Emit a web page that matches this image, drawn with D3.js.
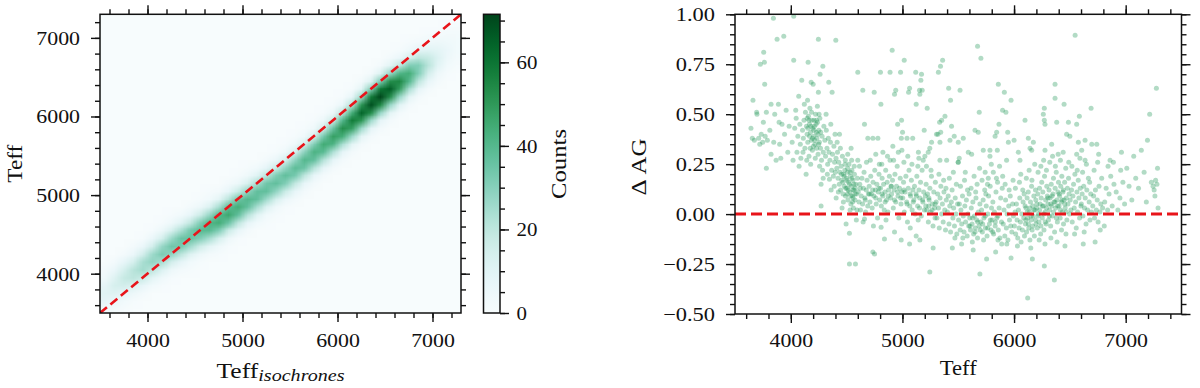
<!DOCTYPE html>
<html lang="en">
<head>
<meta charset="UTF-8">
<title>Teff vs Teff isochrones</title>
<style>
  body { margin: 0; background: #fff; }
  svg { display: block; }
</style>
</head>
<body>
<script src="https://cdn.jsdelivr.net/npm/d3@7"></script>
<script>
// ---------------- data ----------------
const teffTicks = [4000, 5000, 6000, 7000];
const dagTicks = [-0.5, -0.25, 0, 0.25, 0.5, 0.75, 1.0];
const countTicks = [0, 20, 40, 60];
const countMax = 71.5;

// 2D histogram, 100 K bins from 3500 K. One entry per Teff_isochrones column:
// index of the first Teff bin that is filled, then the counts going upward.
const heatStart = [0, 0, 0, 1, 1, 2, 3, 4, 5, 5, 6, 7, 7, 8, 9, 10, 10, 11, 12, 13,
                   14, 15, 16, 17, 18, 19, 20, 21, 22, 23, 24, 25, 26, 26, 27, 28, 29, 29];
const heatCounts = [
  [4, 8, 10, 8, 4, 2], [2, 6, 11, 14, 11, 6, 2, 0], [1, 3, 8, 15, 18, 14, 7, 2, 0], [1, 5, 12, 20, 21, 14, 6, 2, 0],
  [0, 2, 7, 17, 25, 24, 15, 6, 1], [0, 3, 9, 20, 28, 26, 15, 6, 1], [1, 4, 12, 24, 32, 27, 14, 5, 1], [1, 5, 15, 28, 34, 26, 13, 4, 1],
  [2, 8, 20, 33, 35, 23, 10, 3, 0], [1, 3, 11, 25, 36, 33, 19, 7, 2], [1, 5, 16, 31, 39, 31, 16, 5, 1], [2, 9, 24, 39, 41, 27, 12, 3, 1],
  [1, 4, 14, 31, 44, 40, 24, 9, 2], [1, 5, 17, 35, 46, 38, 21, 7, 2], [1, 7, 20, 37, 44, 34, 17, 5, 1], [2, 8, 22, 37, 40, 28, 13, 4, 1],
  [0, 3, 10, 24, 37, 37, 24, 10, 3], [1, 3, 12, 26, 37, 34, 20, 8, 2], [1, 4, 14, 28, 37, 31, 17, 6, 1], [1, 6, 17, 31, 37, 28, 14, 4, 1],
  [2, 7, 19, 33, 38, 28, 13, 4, 1], [2, 7, 20, 35, 40, 29, 14, 4, 1], [2, 7, 21, 37, 42, 31, 14, 4, 1], [2, 8, 22, 39, 45, 33, 15, 5, 1],
  [2, 8, 23, 42, 48, 35, 16, 5, 1], [2, 8, 24, 44, 53, 40, 20, 6, 1], [2, 9, 26, 48, 58, 44, 22, 7, 1], [2, 9, 26, 51, 64, 51, 26, 9, 2],
  [2, 8, 26, 53, 69, 58, 31, 11, 2], [2, 8, 27, 54, 71, 59, 32, 11, 2], [2, 9, 27, 53, 66, 53, 27, 9, 2], [2, 10, 27, 49, 55, 41, 19, 6, 1],
  [2, 9, 24, 40, 44, 31, 14, 4, 1], [0, 2, 8, 20, 31, 31, 20, 8, 2], [0, 2, 7, 15, 21, 18, 10, 4, 1], [0, 2, 5, 10, 12, 9, 5, 1, 0],
  [0, 1, 3, 5, 6, 4, 2, 1, 0], [0, 0, 1, 2, 3, 3, 2, 1, 0]
];

// right panel: [Teff, delta AG]
const scatterPoints = [
  [3643,.43],[3661,.57],[3673,.37],[3694,.51],[3697,.50],[3655,.38],
  [3712,.38],[3727,.75],[3748,.36],[3754,.46],[3757,.81],[3763,.76],[3766,.65],[3781,.51],[3781,.23],[3735,.40],[3790,.37],[3722,.35],[3770,.39],
  [3823,.55],[3823,.30],[3844,.98],[3856,.50],[3877,.875],[3889,.55],[3812,.42],[3868,.27],[3847,.36],[3895,.46],
  [3900,.35],[3921,.45],[3937,.89],[3973,.31],[3958,.52],[3944,.40],[3985,.44],[3910,.28],
  [4026,.99],[4026,.77],[4071,.59],[4074,.24],[4098,.67],[4012,.36],[4035,.43],[4048,.48],[4055,.31],[4063,.39],[4081,.45],[4090,.28],[4044,.52],[4085,.35],[4020,.27],
  [4137,.20],[4155,.76],[4182,.66],[4105,.42],[4112,.38],[4118,.47],[4126,.33],[4131,.51],[4140,.44],[4146,.40],[4152,.36],[4158,.49],[4163,.29],[4167,.45],[4171,.53],[4176,.41],[4184,.37],[4188,.47],[4193,.32],[4197,.43],[4121,.55],[4143,.27],[4178,.25],[4109,.31],[4150,.57],
  [4200,.65],[4247,.875],[4247,.61],[4262,.70],[4287,.74],[4271,.04],[4271,.15],[4205,.39],[4211,.44],[4216,.35],[4222,.50],[4228,.41],[4233,.38],[4239,.46],[4244,.30],[4251,.42],[4256,.36],[4260,.48],[4266,.33],[4275,.27],[4280,.39],[4284,.22],[4291,.31],[4296,.44],[4219,.28],[4238,.54],[4208,.47],[4258,.24],[4290,.18],
  [4340,.66],[4346,.175],[4361,.12],[4370,.61],[4305,.37],[4311,.29],[4318,.42],[4324,.33],[4330,.25],[4336,.38],[4342,.31],[4350,.27],[4355,.36],[4366,.22],[4374,.30],[4381,.19],[4386,.34],[4392,.26],[4398,.21],[4316,.50],[4358,.45],[4327,.20],[4389,.14],[4396,.40],
  [4403,.87],[4406,.08],[4495,-.05],[4405,.28],[4412,.23],[4418,.31],[4423,.18],[4429,.26],[4434,.15],[4440,.21],[4446,.12],[4451,.24],[4457,.17],[4462,.29],[4468,.10],[4473,.20],[4479,.14],[4484,.22],[4490,.09],[4497,.18],[4415,.36],[4444,.33],[4471,.06],[4488,.27],[4426,.11],[4459,.03],[4436,.40],
  [4525,-.096],[4525,-.25],[4579,-.25],[4503,.13],[4508,.21],[4512,.07],[4517,.16],[4521,.25],[4528,.11],[4533,.19],[4538,.05],[4542,.14],[4547,.22],[4551,.09],[4556,.17],[4561,.03],[4566,.12],[4570,.20],[4575,.07],[4583,.15],[4588,.10],[4593,.02],[4597,.18],[4510,.30],[4545,.27],[4568,.24],[4531,.02],[4587,-.03],[4540,.33],[4559,.12],[4506,.10],[4577,.13],
  [4600,.71],[4600,.27],[4645,.62],[4660,.45],[4660,-.025],[4690,.38],[4604,.11],[4611,.06],[4618,.15],[4624,.02],[4631,.09],[4637,.18],[4643,.05],[4650,.13],[4656,.21],[4663,.08],[4670,.01],[4676,.12],[4683,.17],[4689,.04],[4695,.10],[4615,.24],[4648,-.04],[4678,.26],[4622,.13],[4667,.07],
  [4735,-.19],[4750,-.2],[4735,.38],[4747,.61],[4780,.38],[4702,.14],[4709,.06],[4716,.19],[4722,.10],[4729,.03],[4737,.16],[4744,.09],[4752,.22],[4758,.12],[4765,.05],[4771,.15],[4777,-.02],[4784,.11],[4790,.20],[4796,.07],[4712,.27],[4761,.30],[4793,.25],[4740,-.06],
  [4803,.71],[4807,.55],[4825,.31],[4809,-.066],[4839,-.125],[4804,.13],[4811,.04],[4818,.18],[4824,.09],[4831,.15],[4837,.02],[4844,.11],[4850,.22],[4857,.07],[4863,.16],[4870,.01],[4876,.12],[4883,.19],[4889,.27],[4889,.71],[4894,.08],[4815,.25],[4866,.29],[4898,.14],[4853,-.03],
  [4908,.82],[4914,.34],[4929,.60],[4929,-.09],[4957,.45],[4983,.71],[4989,-.13],[4990,.38],[4992,.47],[4995,.32],[4903,.10],[4911,.17],[4918,.03],[4925,.12],[4933,.20],[4940,.62],[4940,.06],[4947,.14],[4953,.24],[4960,.09],[4967,-.02],[4974,.13],[4980,.18],[4987,.05],[4996,.11],[4921,.27],[4963,.31],
  [5001,.41],[5016,.77],[5041,.38],[5055,.61],[5064,.63],[5064,-.15],[5092,.38],[5003,.08],[5010,.16],[5017,.01],[5024,.11],[5031,.19],[5038,.06],[5045,-.04],[5052,.13],[5059,.22],[5066,.04],[5073,.09],[5080,.17],[5087,.02],[5094,.12],[5013,.26],[5048,.29],[5085,.25],[5070,-.07],
  [5119,.71],[5123,.55],[5123,-.11],[5143,.31],[5147,.28],[5153,.62],[5156,.60],[5156,-.13],[5165,.67],[5171,.70],[5177,.62],[5195,.42],[5102,.07],[5108,.14],[5115,.00],[5122,.10],[5129,.19],[5136,.04],[5141,-.03],[5148,.12],[5155,.08],[5162,.16],[5169,-.01],[5176,.22],[5183,.06],[5190,.11],[5197,.02],[5138,.24],[5186,.27],
  [5201,.29],[5222,.53],[5231,.31],[5245,-.29],[5245,.33],[5261,.36],[5275,-.17],[5205,.09],[5212,.15],[5218,.02],[5225,.10],[5232,-.04],[5239,.07],[5246,.13],[5253,.01],[5260,.19],[5267,.05],[5274,-.06],[5281,.11],[5288,.03],[5295,.16],[5215,.24],[5256,.22],[5292,-.02],[5236,.04],
  [5305,.40],[5318,.40],[5322,.71],[5333,.46],[5336,.36],[5336,.27],[5341,.74],[5343,.41],[5351,.47],[5360,.77],[5381,.49],[5396,.27],[5302,.06],[5309,-.02],[5316,.10],[5323,.03],[5330,-.07],[5337,.08],[5344,.14],[5351,.00],[5358,.05],[5365,-.04],[5372,.11],[5379,.02],[5386,-.08],[5393,.07],[5327,.20],[5369,.17],[5390,.13],
  [5414,.63],[5426,.37],[5431,.57],[5440,.44],[5447,-.17],[5464,.39],[5403,.01],[5410,.09],[5417,-.05],[5424,.04],[5431,-.09],[5438,.06],[5445,.12],[5452,-.02],[5459,.03],[5466,-.06],[5473,.08],[5480,.00],[5487,-.10],[5494,.05],[5420,.18],[5456,.21],[5483,.15],[5470,-.12],[5499,.26],
  [5500,.36],[5500,.26],[5509,.28],[5516,.62],[5530,-.15],[5545,.38],[5590,.31],[5503,-.03],[5510,.05],[5517,-.08],[5524,.02],[5531,-.05],[5538,.09],[5545,-.01],[5552,-.09],[5559,.04],[5566,-.04],[5573,.07],[5580,-.11],[5587,.00],[5594,-.06],[5520,.14],[5556,.17],[5583,.12],[5541,-.12],[5597,.10],[5563,.21],
  [5620,.30],[5634,-.18],[5650,.42],[5673,.84],[5679,.41],[5688,.51],[5694,-.30],[5603,-.02],[5610,-.08],[5617,.03],[5624,-.05],[5631,.06],[5638,-.10],[5645,-.01],[5652,-.07],[5659,.08],[5666,-.03],[5673,-.12],[5680,.01],[5687,-.06],[5694,.05],[5615,.13],[5642,.19],[5669,.15],[5691,.23],[5626,-.14],[5656,.11],
  [5703,.78],[5724,.32],[5754,-.225],[5784,.29],[5784,.32],[5702,-.04],[5709,.02],[5716,-.09],[5723,.07],[5730,-.02],[5737,.12],[5744,-.07],[5751,.04],[5758,-.11],[5765,.00],[5772,.09],[5779,-.05],[5786,.14],[5793,-.08],[5798,.03],[5713,.17],[5741,.21],[5769,.18],[5796,.25],[5727,-.13],[5762,.15],[5747,.10],
  [5830,.39],[5835,-.19],[5844,.41],[5850,.32],[5859,.65],[5865,.45],[5889,-.15],[5897,.52],[5803,-.03],[5810,.06],[5817,-.10],[5824,.01],[5831,-.06],[5838,.11],[5845,-.02],[5852,.16],[5859,-.08],[5866,.03],[5873,-.12],[5880,.08],[5887,-.04],[5894,.13],[5814,.21],[5842,.18],[5870,.24],[5898,.19],[5856,-.13],
  [5913,.61],[5927,.51],[5933,.27],[5943,.41],[5949,.36],[5973,.57],[5973,-.22],[5903,-.05],[5910,.02],[5917,-.11],[5924,.07],[5931,-.07],[5938,.00],[5945,-.13],[5952,.04],[5959,-.03],[5966,.09],[5980,-.09],[5987,.05],[5994,-.01],[5920,.15],[5956,.12],[5991,.17],[5935,-.15],[5970,-.06],
  [6000,.37],[6038,.31],[6053,.27],[6098,.47],[6003,-.06],[6009,.01],[6015,-.10],[6021,.05],[6027,-.03],[6033,-.12],[6039,.02],[6045,-.07],[6051,.08],[6057,-.04],[6063,-.14],[6069,.00],[6075,-.08],[6081,.06],[6087,-.02],[6093,-.11],[6099,.04],[6012,.13],[6048,.16],[6078,.12],[6030,-.16],[6090,.10],[6060,.20],
  [6122,-.42],[6128,.38],[6143,.33],[6158,.32],[6164,-.225],[6173,.36],[6102,-.05],[6107,.03],[6112,-.09],[6117,.08],[6122,-.02],[6127,.11],[6132,-.07],[6137,.01],[6142,-.13],[6147,.06],[6152,-.03],[6157,.14],[6162,-.08],[6167,.04],[6172,-.01],[6177,.09],[6182,-.11],[6187,.02],[6192,.12],[6197,-.05],[6110,.18],[6135,.22],[6160,.17],[6185,.25],[6150,-.17],[6195,.07],
  [6262,.50],[6271,.53],[6271,.47],[6277,.45],[6277,.32],[6271,-.26],[6277,-.15],[6203,.03],[6208,-.07],[6213,.10],[6218,.00],[6223,-.04],[6228,.13],[6233,.05],[6238,-.10],[6243,.08],[6248,.16],[6253,-.02],[6258,.11],[6263,.04],[6268,-.08],[6273,.19],[6278,.01],[6283,.07],[6288,-.05],[6293,.14],[6298,.09],[6215,.21],[6240,.24],[6265,.27],[6290,.22],[6225,-.13],
  [6337,.35],[6361,-.33],[6367,.65],[6367,.58],[6382,.46],[6303,.05],[6308,-.03],[6313,.12],[6318,.02],[6323,.08],[6328,-.06],[6333,.15],[6338,.04],[6343,-.01],[6348,.10],[6353,.18],[6358,.06],[6363,-.09],[6368,.13],[6373,.03],[6378,.21],[6383,.07],[6388,-.04],[6393,.11],[6398,.16],[6320,.26],[6345,.29],[6370,.24],[6395,.30],[6330,-.12],[6385,-.14],
  [6448,.55],[6456,-.16],[6471,.40],[6487,.46],[6500,.39],[6403,.04],[6408,.09],[6413,-.02],[6418,.14],[6423,.06],[6428,.19],[6433,.01],[6438,.11],[6443,-.05],[6448,.07],[6453,.16],[6458,.03],[6463,.23],[6468,.08],[6473,-.03],[6478,.13],[6483,.05],[6488,.18],[6493,.10],[6498,.00],[6415,.27],[6440,.31],[6465,-.10],[6490,.26],[6425,-.08],
  [6547,.895],[6561,.45],[6585,.49],[6576,.36],[6561,.30],[6503,.07],[6509,.02],[6515,.12],[6521,-.04],[6527,.09],[6533,.15],[6539,.03],[6545,.20],[6551,.06],[6557,-.07],[6563,.11],[6569,.01],[6575,.17],[6581,.08],[6587,-.02],[6593,.13],[6599,.04],[6518,.24],[6542,-.10],[6566,.22],[6590,.28],
  [6606,.32],[6620,-.15],[6636,.37],[6636,.27],[6690,.53],[6696,.35],[6603,.05],[6610,.10],[6617,-.01],[6624,.14],[6631,.03],[6638,.08],[6645,-.05],[6652,.12],[6659,.02],[6666,.18],[6673,.06],[6680,-.03],[6687,.10],[6694,.01],[6614,.21],[6648,.25],[6677,.16],[6628,-.09],
  [6726,-.14],[6741,.35],[6705,.04],[6713,.09],[6721,-.02],[6729,.12],[6737,.02],[6745,.07],[6753,-.04],[6761,.14],[6769,.01],[6777,.05],[6785,.18],[6793,.03],[6717,.22],[6749,.26],[6772,-.08],[6758,.30],
  [6860,.27],[6890,.26],[6812,.06],[6825,.13],[6838,.02],[6851,.10],[6866,.19],[6879,.04],[6895,.15],[6842,.24],[6808,-.06],
  [6915,.11],[6930,.02],[6948,.08],[6962,.31],[6975,.16],[6990,.05],[6955,.22],
  [7010,.23],[7030,.14],[7055,.07],[7072,.29],[7090,.18],
  [7115,.13],[7140,.32],[7165,.21],[7185,.06],[7195,.37],
  [7215,.50],[7230,.16],[7245,.14],[7255,.12],[7262,.09],[7275,.63],[7280,.15],[7285,.23],[7268,.17],[7290,.03],
  // denser cores
  [4152,.43],[4168,.39],[4181,.44],[4194,.38],[4207,.42],[4214,.37],[4226,.45],[4231,.33],[4243,.40],[4249,.35],[4163,.47],[4186,.51],[4202,.34],[4230,.47],[4268,.41],[4174,.33],[4147,.48],[4253,.50],
  [4455,.20],[4467,.16],[4478,.19],[4492,.13],[4504,.17],[4514,.12],[4526,.15],[4537,.09],[4548,.18],[4557,.08],[4565,.15],[4574,.10],[4509,.23],[4532,.21],[4553,.06],[4486,.25],
  [4705,.10],[4733,.12],[4761,.08],[4789,.13],[4817,.10],[4845,.06],[4873,.09],[4901,.14],[4929,.07],[4957,.11],[4985,.08],[5013,.12],[5041,.05],[5069,.10],[5097,.06],[5125,.09],[5153,.03],[5181,.07],[5209,.04],[5237,.08],[5265,.02],[5293,.05],
  [5605,-.06],[5628,-.02],[5651,-.09],[5674,-.04],[5697,-.08],[5719,-.05],[5742,-.01],[5764,-.07],[5787,-.03],[5809,-.09],[5832,-.04],[5855,-.01],
  [6105,-.03],[6118,.01],[6129,-.05],[6141,.03],[6153,-.01],[6166,-.06],[6178,.02],[6191,-.03],[6204,.05],[6216,-.01],[6229,.02],[6241,-.06],[6254,.04],[6266,.00],[6279,-.04],[6291,.03],[6304,.08],[6316,-.01],[6329,.05],[6341,.09],[6354,.01],[6366,.06],[6379,-.02],[6391,.04],[6404,.10],[6416,.02],[6429,.07],[6441,.12],[6454,.05],[6466,.01]
];

// ---------------- layout ----------------
const W = 1200, H = 388;
const font = "'Liberation Serif', 'DejaVu Serif', serif";
const ink = "#111";

const boxL = { x0: 100, x1: 461, y0: 14.3, y1: 313 };
const boxC = { x0: 483.5, x1: 500, y0: 14.3, y1: 313 };
const boxR = { x0: 735, x1: 1181.5, y0: 14.3, y1: 314 };

const svg = d3.select("body").append("svg").attr("width", W).attr("height", H);

// stretch text horizontally a little (the original uses a wider LaTeX font)
function widen(factor) {
  return function () {
    const w = this.getComputedTextLength();
    this.setAttribute("textLength", w * factor);
    this.setAttribute("lengthAdjust", "spacingAndGlyphs");
  };
}

// ticks on one side: minor + major, outward
function side(g, axisFn, scale, major, minor, labels, fmt) {
  const a1 = g.append("g").call(axisFn(scale).tickValues(minor).tickSize(5).tickFormat(""));
  const a2 = g.append("g").call(axisFn(scale).tickValues(major).tickSize(9).tickFormat(labels ? fmt : ""));
  [a1, a2].forEach(a => {
    a.select(".domain").remove();
    a.selectAll("line").attr("stroke", ink).attr("stroke-width", 1.4);
    a.attr("font-family", font).attr("font-size", 19);
    a.selectAll("text").attr("fill", ink);
  });
  return a2;
}

function frame(box) {
  svg.append("rect")
    .attr("x", box.x0).attr("y", box.y0)
    .attr("width", box.x1 - box.x0).attr("height", box.y1 - box.y0)
    .attr("fill", "none").attr("stroke", ink).attr("stroke-width", 1.5);
}

function clip(id, box) {
  svg.append("clipPath").attr("id", id).append("rect")
    .attr("x", box.x0).attr("y", box.y0)
    .attr("width", box.x1 - box.x0).attr("height", box.y1 - box.y0);
}

function label(x, y, rotate, txt, width) {
  const t = svg.append("text")
    .attr("transform", `translate(${x},${y})` + (rotate ? " rotate(-90)" : ""))
    .attr("text-anchor", "middle")
    .attr("font-family", font).attr("font-size", 21).attr("fill", ink)
    .text(txt);
  // only stretch, never squeeze
  if (width && t.node().getComputedTextLength() < width) {
    t.attr("textLength", width).attr("lengthAdjust", "spacingAndGlyphs");
  }
  return t;
}

// ---------------- left panel: 2D histogram ----------------
const xL = d3.scaleLinear().domain([3500, 7300]).range([boxL.x0, boxL.x1]);
const yL = d3.scaleLinear().domain([3500, 7300]).range([boxL.y1, boxL.y0]);
const color = d3.scaleSequential(d3.interpolateBuGn).domain([0, countMax]);

const nBins = heatCounts.length;
const cnv = document.createElement("canvas");
cnv.width = nBins; cnv.height = nBins;
const ctx = cnv.getContext("2d");
ctx.fillStyle = color(0);
ctx.fillRect(0, 0, nBins, nBins);
heatCounts.forEach((col, c) => {
  col.forEach((v, k) => {
    const r = heatStart[c] + k;
    ctx.fillStyle = color(v);
    ctx.fillRect(c, nBins - 1 - r, 1, 1);
  });
});

clip("clipL", boxL);
svg.append("image")
  .attr("href", cnv.toDataURL())
  .attr("x", xL(3500)).attr("y", yL(7300))
  .attr("width", xL(7300) - xL(3500)).attr("height", yL(3500) - yL(7300))
  .attr("preserveAspectRatio", "none")
  .attr("clip-path", "url(#clipL)");

svg.append("line")
  .attr("x1", xL(3500)).attr("y1", yL(3500))
  .attr("x2", xL(7300)).attr("y2", yL(7300))
  .attr("stroke", "#e8141a").attr("stroke-width", 2.6)
  .attr("stroke-dasharray", "9,4.5")
  .attr("clip-path", "url(#clipL)");

const teffMinorL = d3.range(3600, 7300, 200);
const fmtInt = d3.format("d");

const bL = side(svg.append("g").attr("transform", `translate(0,${boxL.y1})`), d3.axisBottom, xL, teffTicks, teffMinorL, true, fmtInt);
bL.selectAll("text").attr("y", 34).attr("dy", null).each(widen(1.15));
side(svg.append("g").attr("transform", `translate(0,${boxL.y0})`), d3.axisTop, xL, teffTicks, teffMinorL, false);
const lL = side(svg.append("g").attr("transform", `translate(${boxL.x0},0)`), d3.axisLeft, yL, teffTicks, teffMinorL, true, fmtInt);
lL.selectAll("text").attr("x", -20).attr("dy", "0.34em").each(widen(1.15));
side(svg.append("g").attr("transform", `translate(${boxL.x1},0)`), d3.axisRight, yL, teffTicks, teffMinorL, false);
frame(boxL);

const xlab = label((boxL.x0 + boxL.x1) / 2, 377.5, false, "Teff");
xlab.append("tspan").attr("font-style", "italic").attr("font-size", 16.5).attr("dy", 3).text("isochrones");
xlab.attr("textLength", 128).attr("lengthAdjust", "spacingAndGlyphs");
label(21.5, (boxL.y0 + boxL.y1) / 2, true, "Teff", 38);

// ---------------- colorbar ----------------
const yC = d3.scaleLinear().domain([0, countMax]).range([boxC.y1, boxC.y0]);
const grad = svg.append("defs").append("linearGradient")
  .attr("id", "cbar").attr("x1", 0).attr("y1", 1).attr("x2", 0).attr("y2", 0);
d3.range(0, 1.0001, 0.05).forEach(t => {
  grad.append("stop").attr("offset", t).attr("stop-color", color(t * countMax));
});
svg.append("rect")
  .attr("x", boxC.x0).attr("y", boxC.y0)
  .attr("width", boxC.x1 - boxC.x0).attr("height", boxC.y1 - boxC.y0)
  .attr("fill", "url(#cbar)");
const cR = side(svg.append("g").attr("transform", `translate(${boxC.x1},0)`), d3.axisRight, yC, countTicks, d3.range(0, 71, 5), true, fmtInt);
cR.selectAll("text").attr("x", 16.5).attr("dy", "0.34em").each(widen(1.1));
frame(boxC);
label(566, 164, true, "Counts", 70);

// ---------------- right panel: scatter ----------------
const xR = d3.scaleLinear().domain([3500, 7500]).range([boxR.x0, boxR.x1]);
const yR = d3.scaleLinear().domain([-0.5, 1.0]).range([boxR.y1, boxR.y0]);

clip("clipR", boxR);
svg.append("g").attr("clip-path", "url(#clipR)")
  .selectAll("circle")
  .data(scatterPoints)
  .join("circle")
  .attr("cx", d => xR(d[0]))
  .attr("cy", d => yR(d[1]))
  .attr("r", 2.5)
  .attr("fill", "#23995a")
  .attr("fill-opacity", 0.35);

svg.append("line")
  .attr("x1", xR(3500)).attr("x2", xR(7500))
  .attr("y1", yR(0)).attr("y2", yR(0))
  .attr("stroke", "#e8141a").attr("stroke-width", 3)
  .attr("stroke-dasharray", "11,5");

const teffMinorR = d3.range(3600, 7500, 200);
const dagMinor = d3.range(-0.5, 1.0001, 0.05);
const fmtDag = d3.format(".2f");

const bR = side(svg.append("g").attr("transform", `translate(0,${boxR.y1})`), d3.axisBottom, xR, teffTicks, teffMinorR, true, fmtInt);
bR.selectAll("text").attr("y", 33).attr("dy", null).each(widen(1.15));
side(svg.append("g").attr("transform", `translate(0,${boxR.y0})`), d3.axisTop, xR, teffTicks, teffMinorR, false);
const lR = side(svg.append("g").attr("transform", `translate(${boxR.x0},0)`), d3.axisLeft, yR, dagTicks, dagMinor, true, fmtDag);
lR.selectAll("text").attr("x", -20).attr("dy", "0.34em").each(widen(1.18));
side(svg.append("g").attr("transform", `translate(${boxR.x1},0)`), d3.axisRight, yR, dagTicks, dagMinor, false);
frame(boxR);

label((boxR.x0 + boxR.x1) / 2, 375, false, "Teff", 37);
label(646, 167, true, "Δ AG", 57);
</script>
</body>
</html>
